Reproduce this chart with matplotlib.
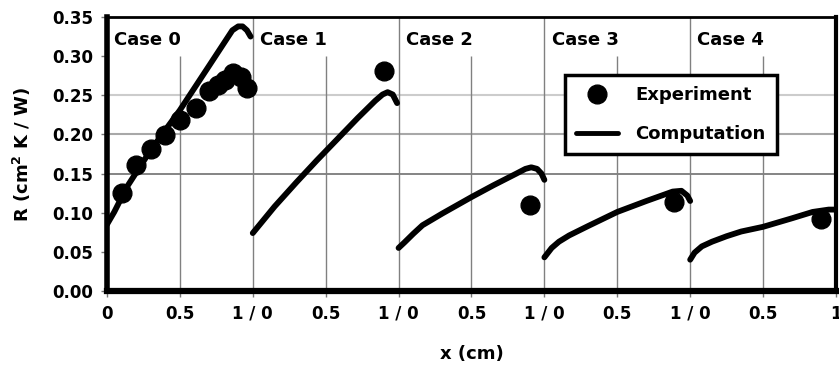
import matplotlib.pyplot as plt
import numpy as np

plt.rcParams['font.family'] = ['DejaVu Sans']
plt.rcParams['font.weight'] = 'bold'

# computed curves, one per case (x runs 0-5, each case spans 1 cm)
comp_x = [
    [0.0, 0.05, 0.137, 0.3, 0.5, 0.705, 0.86, 0.90, 0.93, 0.96, 0.985],
    [1.0, 1.15, 1.3, 1.44, 1.58, 1.72, 1.84, 1.89, 1.925, 1.96, 1.99],
    [2.0, 2.04, 2.1, 2.164, 2.3, 2.5, 2.65, 2.808, 2.87, 2.91, 2.95, 2.98, 3.0],
    [3.0, 3.05, 3.1, 3.17, 3.3, 3.5, 3.7, 3.88, 3.94, 3.98, 4.0],
    [4.0, 4.03, 4.08, 4.15, 4.25, 4.35, 4.5, 4.7, 4.84, 4.95, 5.0],
]
comp_r = [
    [0.085, 0.101, 0.133, 0.180, 0.231, 0.289, 0.333, 0.338, 0.338, 0.333, 0.325],
    [0.074, 0.108, 0.139, 0.167, 0.194, 0.221, 0.243, 0.251, 0.254, 0.251, 0.240],
    [0.055, 0.062, 0.073, 0.084, 0.099, 0.120, 0.135, 0.150, 0.156, 0.158, 0.156, 0.150, 0.142],
    [0.043, 0.055, 0.063, 0.071, 0.083, 0.101, 0.115, 0.127, 0.128, 0.122, 0.115],
    [0.040, 0.049, 0.057, 0.063, 0.070, 0.076, 0.082, 0.093, 0.101, 0.104, 0.104],
]

# measurements
exp_x = [0.1, 0.2, 0.3, 0.4, 0.5, 0.61, 0.7, 0.76, 0.81, 0.865, 0.92, 0.96,
         1.9, 2.9, 3.89, 4.9]
exp_r = [0.125, 0.161, 0.182, 0.199, 0.218, 0.234, 0.255, 0.263, 0.270, 0.278, 0.273, 0.259,
         0.281, 0.110, 0.114, 0.092]

cases = ['Case 0', 'Case 1', 'Case 2', 'Case 3', 'Case 4']
xtick_pos = np.arange(0, 5.01, 0.5)
xtick_lab = ['0', '0.5', '1 / 0', '0.5', '1 / 0', '0.5', '1 / 0', '0.5', '1 / 0', '0.5', '1']
ytick_pos = np.arange(0, 0.351, 0.05)

fig = plt.figure(figsize=(8.39, 3.68), dpi=100)
ax = fig.add_axes([0.1275, 0.2092, 0.8689, 0.7446])
ax.set_xlim(0, 5)
ax.set_ylim(0, 0.35)

# grid: only a few horizontal lines, half-cm lines stop under the case labels
ax.axhline(0.25, color='#cccccc', lw=1.5, zorder=0)
ax.axhline(0.20, color='#a8a8a8', lw=1.5, zorder=0)
ax.axhline(0.15, color='#707070', lw=1.2, zorder=0)
ax.vlines([1, 2, 3, 4], 0, 0.35, color='#808080', lw=1.0, zorder=0)
ax.vlines([0.5, 1.5, 2.5, 3.5, 4.5], 0, 0.30, color='#808080', lw=1.0, zorder=0)

for i in range(len(comp_x)):
    ax.plot(comp_x[i], comp_r[i], color='black', lw=4.2, solid_capstyle='round',
            solid_joinstyle='round', label='Computation' if i == 0 else None, zorder=3)
ax.plot(exp_x, exp_r, 'o', color='black', ms=13.5, ls='none', label='Experiment', zorder=4)

for i, c in enumerate(cases):
    ax.text(i + 0.05, 0.32, c, fontsize=13, fontweight='bold', va='center', ha='left')

ax.set_xticks(xtick_pos)
ax.set_xticklabels(xtick_lab)
ax.set_yticks(ytick_pos)
ax.set_yticklabels(['%.2f' % v for v in ytick_pos])
ax.tick_params(labelsize=12, length=4, width=1, color='#777777', pad=6)
for lab in ax.get_xticklabels() + ax.get_yticklabels():
    lab.set_fontweight('bold')

ax.spines['left'].set_linewidth(4)
ax.spines['bottom'].set_linewidth(4.5)
ax.spines['right'].set_linewidth(3)
ax.spines['top'].set_linewidth(2)

ax.set_xlabel('x (cm)', fontsize=13, fontweight='bold', labelpad=16)
ax.set_ylabel(r'R (cm$^\mathbf{2}$ K / W)', fontsize=13, fontweight='bold', labelpad=14)

handles, labels = ax.get_legend_handles_labels()
leg = ax.legend(handles[::-1], labels[::-1], loc='upper left', bbox_to_anchor=(0.628, 0.788),
                borderaxespad=0, frameon=True, fancybox=False, edgecolor='black',
                framealpha=1, fontsize=13, handlelength=2.3, borderpad=0.62,
                labelspacing=1.15, handletextpad=1.0)
leg.get_frame().set_linewidth(2.5)
leg.legend_handles[1].set_linewidth(3.5)
for t in leg.get_texts():
    t.set_fontweight('bold')

fig.savefig('out.png', dpi=100)
